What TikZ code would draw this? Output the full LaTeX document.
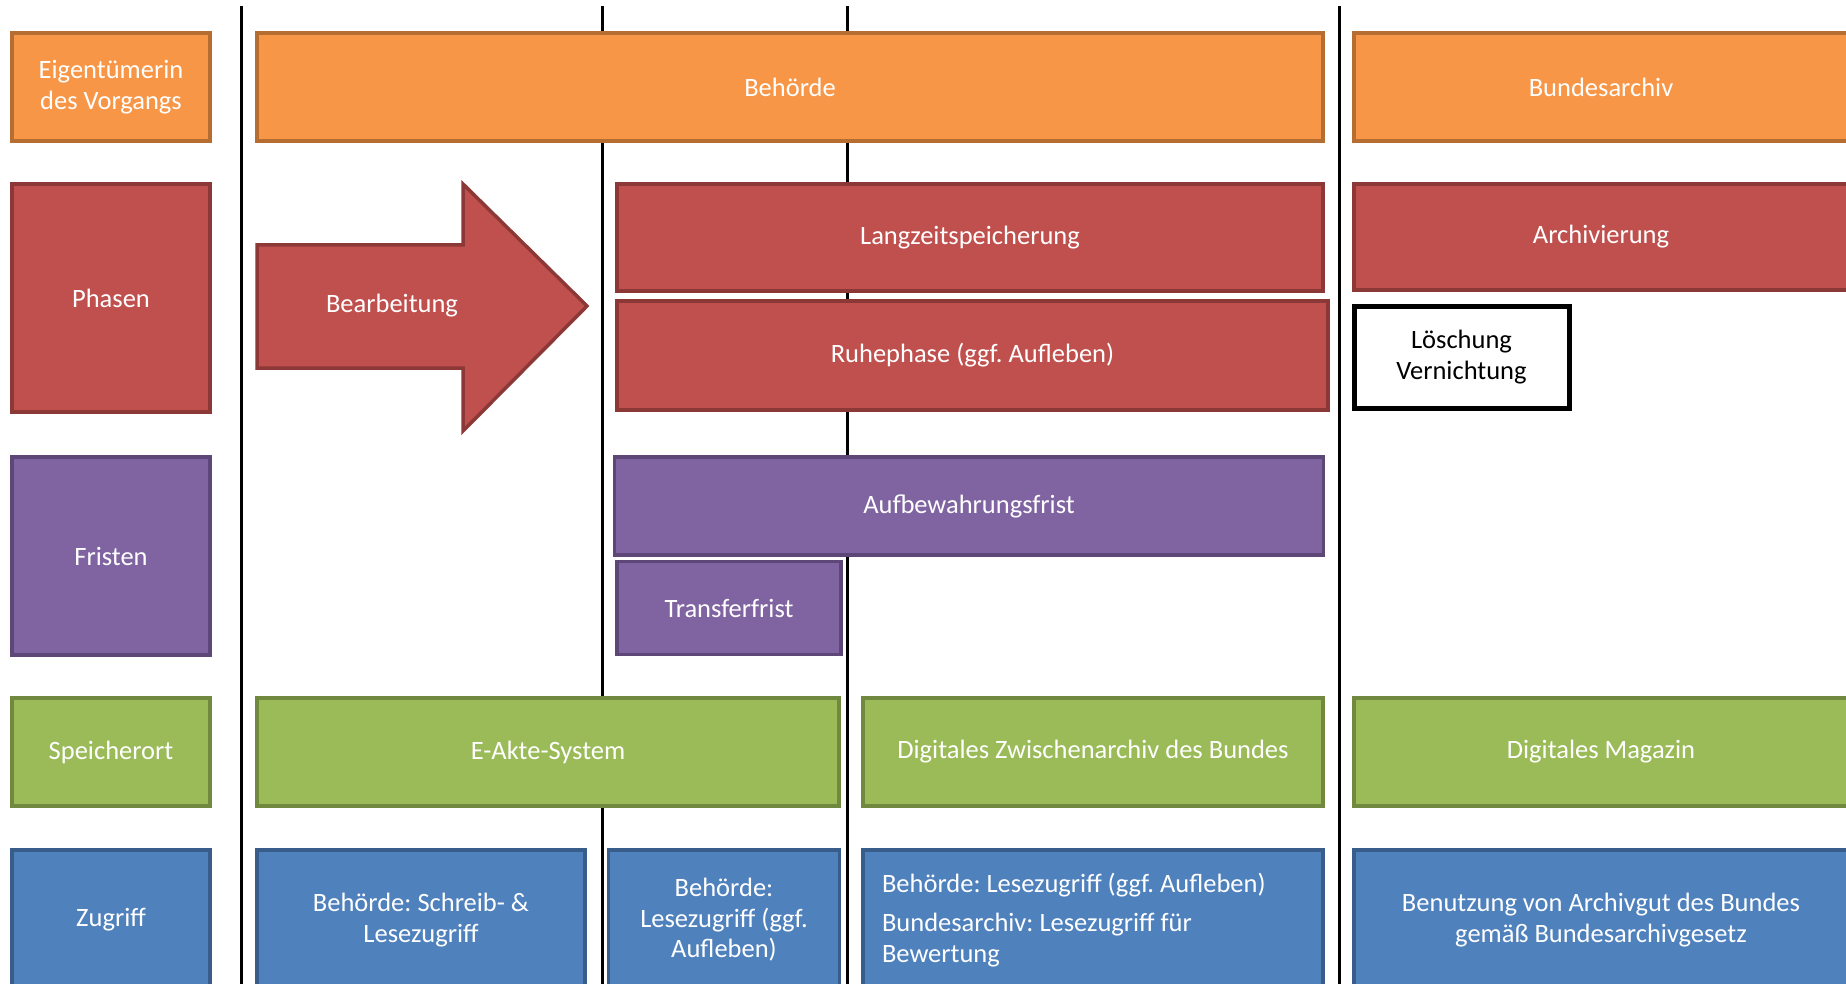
\documentclass[tikz,border=0pt]{standalone}
\usepackage{fontspec}
\setmainfont{Carlito}
\usepackage{tikz}
\usetikzlibrary{positioning}
\frenchspacing

\definecolor{ownfill}{HTML}{F79646}
\definecolor{owndraw}{HTML}{B66D31}
\definecolor{phasefill}{HTML}{C0504D}
\definecolor{phasedraw}{HTML}{8C3836}
\definecolor{fristfill}{HTML}{8064A2}
\definecolor{fristdraw}{HTML}{5C4776}
\definecolor{ortfill}{HTML}{9BBB59}
\definecolor{ortdraw}{HTML}{71893F}
\definecolor{accfill}{HTML}{4F81BD}
\definecolor{accdraw}{HTML}{385D8A}

\begin{document}
\begin{tikzpicture}[
    x=1pt, y=-1pt,
    every node/.style={font=\fontsize{26.5}{30.5}\selectfont},
    bar/.style={rectangle, line width=3.5pt, text=white, inner sep=4pt, align=center},
    ownbox/.style={bar, fill=ownfill, draw=owndraw},
    phasebox/.style={bar, fill=phasefill, draw=phasedraw},
    fristbox/.style={bar, fill=fristfill, draw=fristdraw},
    ortbox/.style={bar, fill=ortfill, draw=ortdraw},
    accbox/.style={bar, fill=accfill, draw=accdraw},
    endbox/.style={rectangle, line width=5pt, draw=black, fill=white, align=center},
    divider/.style={line width=3pt, black}
]

    \useasboundingbox (0,0) rectangle (1846,984);
    \clip (0,0) rectangle (1846,984);

    % Dividers between the stages
    \coordinate (d1t) at (241,6);    \coordinate (d1b) at (241,990);
    \coordinate (d2t) at (602,6);    \coordinate (d2b) at (602,990);
    \coordinate (d3t) at (847,6);    \coordinate (d3b) at (847,990);
    \coordinate (d4t) at (1339,6);   \coordinate (d4b) at (1339,990);
    \draw[divider] (d1t) -- (d1b);
    \draw[divider] (d2t) -- (d2b);
    \draw[divider] (d3t) -- (d3b);
    \draw[divider] (d4t) -- (d4b);

    % Row 1: Eigentuemerin
    \node[ownbox, minimum width=198, minimum height=108] (own) at (111,87) {Eigentümerin\\des Vorgangs};
    \node[ownbox, minimum width=1066, minimum height=108] (ownbh) at (790,87) {Behörde};
    \node[ownbox, minimum width=494, minimum height=108] (ownba) at (1601,87) {Bundesarchiv};

    % Row 2: Phasen
    \node[phasebox, minimum width=198, minimum height=228] (phase) at (111,298) {Phasen};
    \draw[phasedraw, fill=phasefill, line width=3.5pt, line join=miter]
        (257,245) -- (463,245) -- (463,184) -- (587,306) -- (463,431) -- (463,368) -- (257,368) -- cycle;
    \node[text=white] (bearb) at (392,306) {Bearbeitung};
    \node[phasebox, minimum width=706, minimum height=107] (langz) at (970,237.5) {Langzeitspeicherung};
    \node[phasebox, minimum width=711, minimum height=109] (ruhe) at (972.5,355.5) {Ruhephase (ggf. Aufleben)};
    \node[phasebox, minimum width=494, minimum height=106] (archiv) at (1601,237) {Archivierung};
    \node[endbox, minimum width=215, minimum height=102] (loesch) at (1461.5,357) {Löschung\\Vernichtung};

    % Row 3: Fristen
    \node[fristbox, minimum width=198, minimum height=198] (frist) at (111,556) {Fristen};
    \node[fristbox, minimum width=709, minimum height=98] (aufbew) at (969,506) {Aufbewahrungsfrist};
    \node[fristbox, minimum width=224, minimum height=93] (transfer) at (729,608) {Transferfrist};

    % Row 4: Speicherort
    \node[ortbox, minimum width=198, minimum height=108] (ort) at (111,752) {Speicherort};
    \node[ortbox, minimum width=582, minimum height=108] (eakte) at (548,752) {E-Akte-System};
    \node[ortbox, minimum width=460, minimum height=108] (zwarch) at (1093,752) {Digitales Zwischenarchiv des Bundes};
    \node[ortbox, minimum width=494, minimum height=108] (magazin) at (1601,752) {Digitales Magazin};

    % Row 5: Zugriff
    \node[accbox, minimum width=198, minimum height=140] (acc) at (111,920) {Zugriff};
    \node[accbox, minimum width=328, minimum height=140] (accbh) at (421,920) {Behörde: Schreib- \&\\Lesezugriff};
    \node[accbox, minimum width=231, minimum height=140] (accrd) at (724,920) {Behörde:\\Lesezugriff (ggf.\\Aufleben)};
    \node[accbox, minimum width=460, minimum height=140, align=flush left, text width=422] (acczw) at (1093,920)
        {Behörde: Lesezugriff (ggf. Aufleben)\\[9pt]Bundesarchiv: Lesezugriff für\\Bewertung};
    \node[accbox, minimum width=494, minimum height=140] (accba) at (1601,920) {Benutzung von Archivgut des Bundes\\gemäß Bundesarchivgesetz};

\end{tikzpicture}
\end{document}
